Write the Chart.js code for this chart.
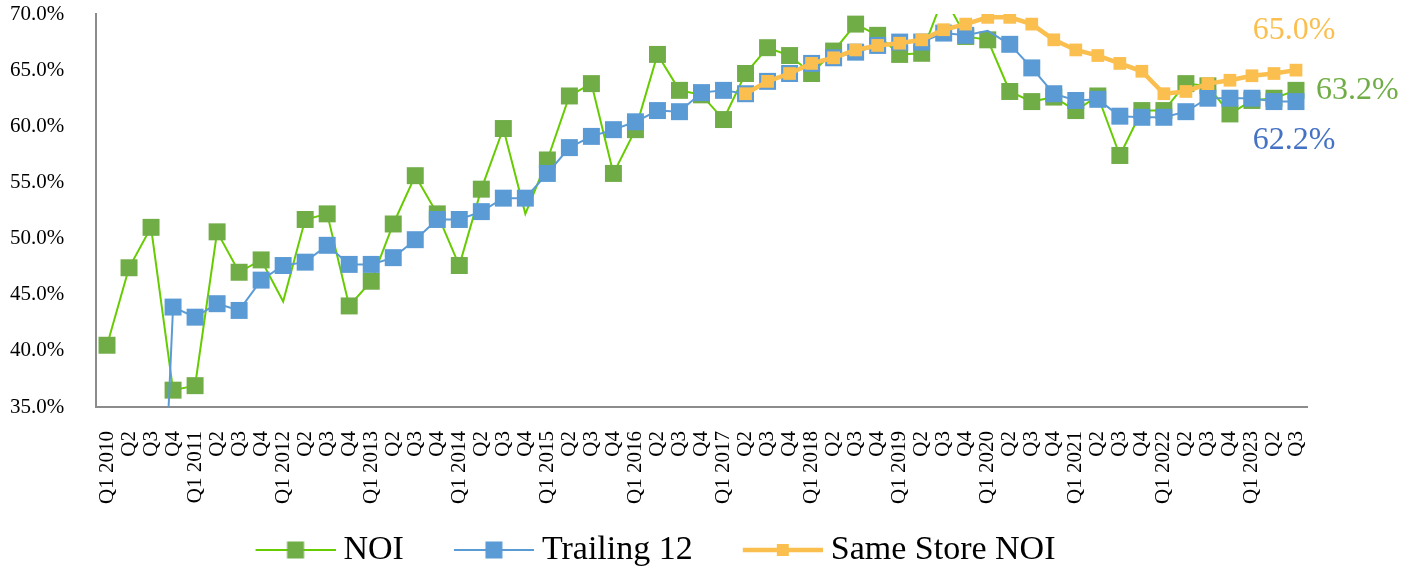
<!DOCTYPE html>
<html>
<head>
<meta charset="UTF-8">
<title>NOI margin</title>
<script src="https://cdn.jsdelivr.net/npm/chart.js@4.4.1/dist/chart.umd.min.js"></script>
<style>
html, body { margin:0; padding:0; background:#ffffff; }
#wrap { width:1414px; height:577px; position:relative; }
</style>
</head>
<body>
<div id="wrap"><canvas id="canvas"></canvas></div>
<script>
// categories
var quarters = [
    'Q1 2010','Q2','Q3','Q4',
    'Q1 2011','Q2','Q3','Q4',
    'Q1 2012','Q2','Q3','Q4',
    'Q1 2013','Q2','Q3','Q4',
    'Q1 2014','Q2','Q3','Q4',
    'Q1 2015','Q2','Q3','Q4',
    'Q1 2016','Q2','Q3','Q4',
    'Q1 2017','Q2','Q3','Q4',
    'Q1 2018','Q2','Q3','Q4',
    'Q1 2019','Q2','Q3','Q4',
    'Q1 2020','Q2','Q3','Q4',
    'Q1 2021','Q2','Q3','Q4',
    'Q1 2022','Q2','Q3','Q4',
    'Q1 2023','Q2','Q3'
];

// series (percent)
var noi = [
    40.5, 47.4, 51.0, 36.5,
    36.9, 50.6, 47.0, 48.1,
    44.4, 51.7, 52.2, 44.0,
    46.2, 51.3, 55.6, 52.2,
    47.6, 54.4, 59.8, 52.2,
    57.0, 62.7, 63.8, 55.8,
    59.7, 66.4, 63.2, 62.8,
    60.6, 64.7, 67.0, 66.3,
    64.7, 66.7, 69.1, 68.1,
    66.4, 66.5, 71.6, 68.0,
    67.7, 63.1, 62.2, 62.6,
    61.4, 62.7, 57.4, 61.4,
    61.4, 63.8, 63.6, 61.1,
    62.3, 62.5, 63.2
];
var trailing12 = [
    null, null, 0, 43.9,
    43.0, 44.2, 43.6, 46.3,
    47.6, 47.9, 49.4, 47.7,
    47.7, 48.3, 49.9, 51.7,
    51.7, 52.4, 53.6, 53.6,
    55.8, 58.1, 59.1, 59.7,
    60.4, 61.4, 61.3, 63.0,
    63.2, 62.9, 64.0, 64.7,
    65.6, 66.1, 66.6, 67.2,
    67.5, 67.5, 68.3, 68.1,
    68.5, 67.3, 65.2, 62.9,
    62.3, 62.4, 60.9, 60.8,
    60.8, 61.3, 62.5, 62.5,
    62.5, 62.2, 62.2
];
var sameStore = [
    null, null, null, null,
    null, null, null, null,
    null, null, null, null,
    null, null, null, null,
    null, null, null, null,
    null, null, null, null,
    null, null, null, null,
    null, 62.9, 64.0, 64.7,
    65.6, 66.1, 66.8, 67.2,
    67.4, 67.7, 68.6, 69.1,
    69.7, 69.7, 69.1, 67.7,
    66.8, 66.3, 65.6, 64.9,
    62.9, 63.1, 63.8, 64.1,
    64.5, 64.7, 65.0
];

var SERIF = "'Liberation Serif', 'Times New Roman', serif";
var GREEN_LINE = '#66CC00', GREEN = '#70AD47';
var BLUE = '#5B9BD5', BLUE_TEXT = '#4472C4';
var ORANGE = '#FBBF4F';

// points that have no marker in the original
var noiNoMarker = [8, 19];
var t12NoMarker = [40];

// legend icon: line with a square in the middle (left part transparent for spacing)
function makeIcon(lineColor, lineWidth, markColor, markSize) {
    var c = document.createElement('canvas');
    c.width = 129; c.height = 34;
    var g = c.getContext('2d');
    g.strokeStyle = lineColor;
    g.lineWidth = lineWidth;
    g.beginPath(); g.moveTo(49, 17); g.lineTo(129, 17); g.stroke();
    g.fillStyle = markColor;
    g.fillRect(89 - markSize / 2, 17 - markSize / 2, markSize, markSize);
    return c;
}
var legendIcons = [
    makeIcon(GREEN_LINE, 2, GREEN, 17),
    makeIcon(BLUE, 2, BLUE, 17),
    makeIcon(ORANGE, 4.5, ORANGE, 12)
];

var endLabels = {
    id: 'endLabels',
    afterDatasetsDraw: function(chart) {
        var ctx = chart.ctx;
        chart.data.datasets.forEach(function(ds, i) {
            var lab = ds.endLabel;
            if (!lab) return;
            var meta = chart.getDatasetMeta(i);
            var pt = meta.data[meta.data.length - 1];
            var v = ds.data[ds.data.length - 1];
            ctx.save();
            ctx.font = '32px ' + SERIF;
            ctx.fillStyle = lab.color;
            ctx.textAlign = lab.align;
            ctx.textBaseline = 'middle';
            ctx.fillText(v.toFixed(1) + '%', pt.x + lab.dx, pt.y + lab.dy);
            ctx.restore();
        });
    }
};

// legend in the original sits left of centre
var legendShift = {
    id: 'legendShift',
    afterLayout: function(chart) {
        chart.legend.left -= 23;
        chart.legend.right -= 23;
    }
};

var ctx = document.getElementById('canvas').getContext('2d');
window.myChart = new Chart(ctx, {
    type: 'line',
    data: {
        labels: quarters,
        datasets: [{
            label: 'NOI',
            data: noi,
            borderColor: GREEN_LINE,
            backgroundColor: GREEN,
            borderWidth: 2,
            pointStyle: 'rect',
            pointBackgroundColor: GREEN,
            pointBorderWidth: 0,
            pointRadius: function(c) { return noiNoMarker.indexOf(c.dataIndex) >= 0 ? 0 : 12; },
            pointHoverRadius: function(c) { return noiNoMarker.indexOf(c.dataIndex) >= 0 ? 0 : 12; },
            clip: 0,
            order: 3,
            endLabel: { color: GREEN, align: 'left', dx: 20, dy: 0 }
        }, {
            label: 'Trailing 12',
            data: trailing12,
            borderColor: BLUE,
            backgroundColor: BLUE,
            borderWidth: 2,
            pointStyle: 'rect',
            pointBackgroundColor: BLUE,
            pointBorderWidth: 0,
            pointRadius: function(c) { return t12NoMarker.indexOf(c.dataIndex) >= 0 ? 0 : 12; },
            pointHoverRadius: function(c) { return t12NoMarker.indexOf(c.dataIndex) >= 0 ? 0 : 12; },
            clip: 0,
            order: 2,
            endLabel: { color: BLUE_TEXT, align: 'center', dx: -2, dy: 39 }
        }, {
            label: 'Same Store NOI',
            data: sameStore,
            borderColor: ORANGE,
            backgroundColor: ORANGE,
            borderWidth: 4.5,
            pointStyle: 'rect',
            pointBackgroundColor: ORANGE,
            pointBorderWidth: 0,
            pointRadius: 9,
            pointHoverRadius: 9,
            order: 1,
            endLabel: { color: ORANGE, align: 'center', dx: -2, dy: -40 }
        }]
    },
    options: {
        responsive: true,
        maintainAspectRatio: false,
        animation: false,
        layout: { padding: { top: 14, right: 107, left: 10, bottom: 0 } },
        plugins: {
            tooltip: { enabled: false },
            legend: {
                position: 'bottom',
                labels: {
                    usePointStyle: true,
                    pointStyleWidth: 111,
                    padding: 10,
                    color: '#000000',
                    font: { family: SERIF, size: 34 },
                    sort: function(a, b) { return a.datasetIndex - b.datasetIndex; },
                    generateLabels: function(chart) {
                        var items = Chart.defaults.plugins.legend.labels.generateLabels(chart);
                        items.forEach(function(it) { it.pointStyle = legendIcons[it.datasetIndex]; });
                        return items;
                    }
                }
            }
        },
        scales: {
            x: {
                type: 'category',
                offset: true,
                grid: { display: false, drawTicks: false },
                border: { color: '#8C8C8C', width: 2 },
                ticks: {
                    autoSkip: false,
                    minRotation: 90,
                    maxRotation: 90,
                    padding: 24,
                    color: '#000000',
                    font: { family: SERIF, size: 21 }
                },
                afterFit: function(s) { s.height = 116; }
            },
            y: {
                min: 35,
                max: 70,
                grid: { display: false, drawTicks: false },
                border: { color: '#8C8C8C', width: 2 },
                ticks: {
                    stepSize: 5,
                    padding: 0,
                    crossAlign: 'far',
                    color: '#000000',
                    font: { family: SERIF, size: 21 },
                    callback: function(v) { return v.toFixed(1) + '%'; }
                },
                afterFit: function(s) { s.width = 86; }
            }
        }
    },
    plugins: [endLabels, legendShift]
});
</script>
</body>
</html>
